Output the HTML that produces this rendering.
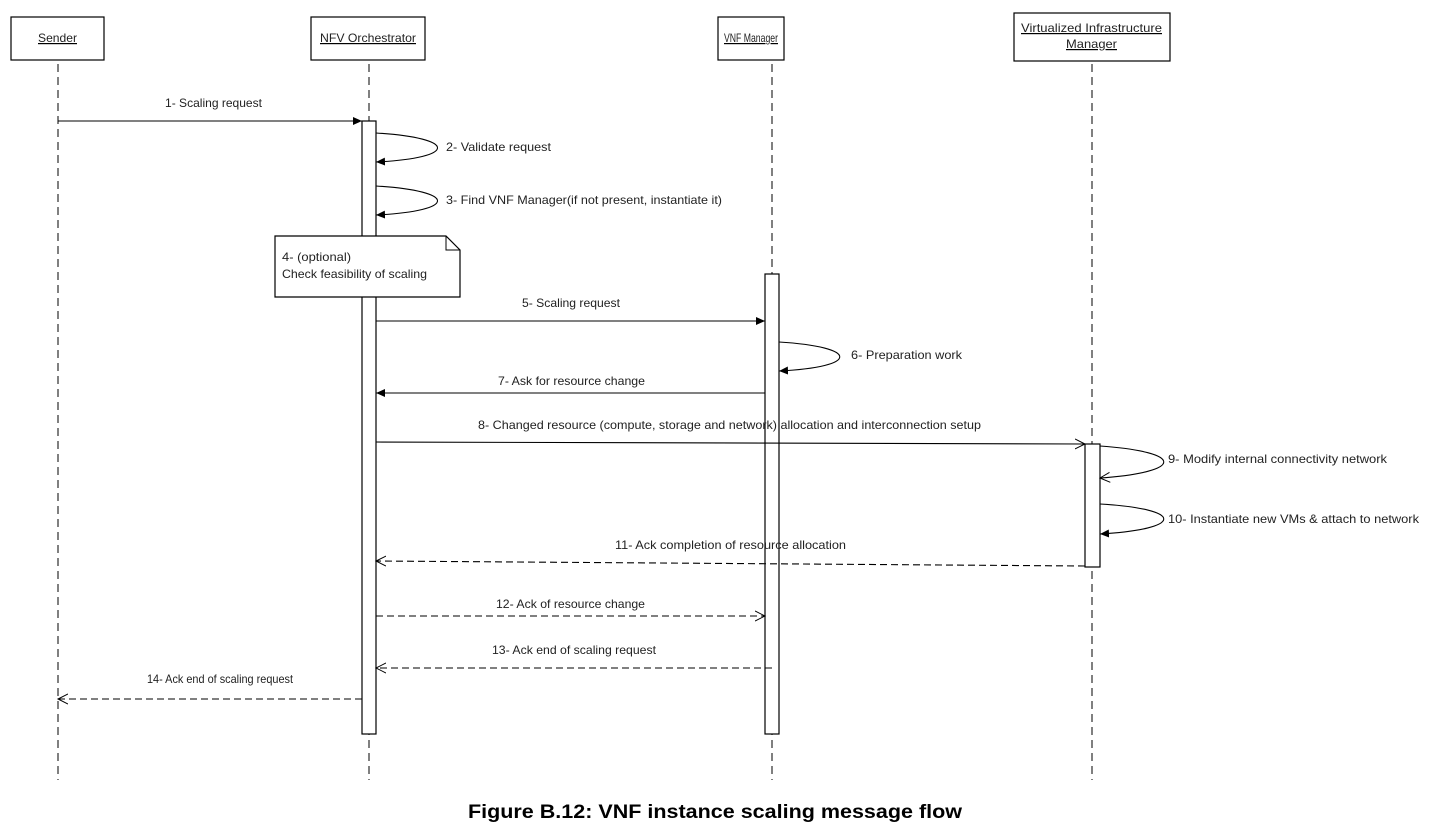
<!DOCTYPE html>
<html><head><meta charset="utf-8"><style>
body{margin:0;background:#fff;width:1434px;height:834px;overflow:hidden}
svg text{font-family:"Liberation Sans",sans-serif;font-size:12px;fill:#222}
</style></head><body>
<svg width="1434" height="834" viewBox="0 0 1434 834">
<defs>
<marker id="f" markerWidth="10" markerHeight="10" refX="9" refY="5" orient="auto" markerUnits="userSpaceOnUse"><path d="M0,1 L9,5 L0,9 z" fill="#000"/></marker>
<marker id="o" markerWidth="12" markerHeight="12" refX="10" refY="6" orient="auto" markerUnits="userSpaceOnUse"><path d="M0,1 L10,6 L0,11" fill="none" stroke="#000"/></marker>
</defs>
<g stroke="#000" fill="#fff" stroke-width="1.2">
<rect x="11" y="17" width="93" height="43"/>
<rect x="311" y="17" width="114" height="43"/>
<rect x="718" y="17" width="66" height="43"/>
<rect x="1014" y="13" width="156" height="48"/>
</g>
<g text-decoration="underline">
<text x="38" y="42" textLength="39" lengthAdjust="spacingAndGlyphs">Sender</text>
<text x="320" y="42" textLength="96" lengthAdjust="spacingAndGlyphs">NFV Orchestrator</text>
<text x="724" y="42" textLength="54" lengthAdjust="spacingAndGlyphs" style="font-size:12px">VNF Manager</text>
<text x="1021" y="32" textLength="141" lengthAdjust="spacingAndGlyphs">Virtualized Infrastructure</text>
<text x="1066" y="48" textLength="51" lengthAdjust="spacingAndGlyphs">Manager</text>
</g>
<g stroke="#000" stroke-width="1" stroke-dasharray="8,5">
<line x1="58" y1="64" x2="58" y2="780"/>
<line x1="369" y1="64" x2="369" y2="780"/>
<line x1="772" y1="64" x2="772" y2="780"/>
<line x1="1092" y1="64" x2="1092" y2="780"/>
</g>
<g stroke="#000" fill="#fff" stroke-width="1.2">
<rect x="362" y="121" width="14" height="613"/>
<rect x="765" y="274" width="14" height="460"/>
<rect x="1085" y="444" width="15" height="123"/>
</g>
<g stroke="#000" fill="none" stroke-width="1.1">
<line x1="58" y1="121" x2="362" y2="121" marker-end="url(#f)"/>
<path d="M376,133 C458,138 458,158 376,162" marker-end="url(#f)"/>
<path d="M376,186 C458,191 458,211 376,215" marker-end="url(#f)"/>
<line x1="376" y1="321" x2="765" y2="321" marker-end="url(#f)"/>
<path d="M779,342 C860,347 860,367 779,371" marker-end="url(#f)"/>
<line x1="765" y1="393" x2="376" y2="393" marker-end="url(#f)"/>
<line x1="376" y1="442" x2="1085" y2="444" marker-end="url(#o)"/>
<path d="M1100,446 C1185,452 1185,472 1100,478" marker-end="url(#o)"/>
<path d="M1100,504 C1185,509 1185,529 1100,534" marker-end="url(#f)"/>
<g stroke-dasharray="7,4">
<line x1="1085" y1="566" x2="376" y2="561" marker-end="url(#o)"/>
<line x1="376" y1="616" x2="765" y2="616" marker-end="url(#o)"/>
<line x1="772" y1="668" x2="376" y2="668" marker-end="url(#o)"/>
<line x1="362" y1="699" x2="58" y2="699" marker-end="url(#o)"/>
</g>
</g>
<path d="M275,236 L446,236 L460,250 L460,297 L275,297 z" fill="#fff" stroke="#000" stroke-width="1.2"/>
<path d="M446,236 L446,250 L460,250" fill="none" stroke="#000"/>
<text x="282" y="261" textLength="69" lengthAdjust="spacingAndGlyphs">4- (optional)</text>
<text x="282" y="278" textLength="145" lengthAdjust="spacingAndGlyphs">Check feasibility of scaling</text>
<text x="165" y="107" textLength="97" lengthAdjust="spacingAndGlyphs">1- Scaling request</text>
<text x="446" y="151" textLength="105" lengthAdjust="spacingAndGlyphs">2- Validate request</text>
<text x="446" y="204" textLength="276" lengthAdjust="spacingAndGlyphs">3- Find VNF Manager(if not present, instantiate it)</text>
<text x="522" y="307" textLength="98" lengthAdjust="spacingAndGlyphs">5- Scaling request</text>
<text x="851" y="359" textLength="111" lengthAdjust="spacingAndGlyphs">6- Preparation work</text>
<text x="498" y="385" textLength="147" lengthAdjust="spacingAndGlyphs">7- Ask for resource change</text>
<text x="478" y="429" textLength="503" lengthAdjust="spacingAndGlyphs">8- Changed resource (compute, storage and network) allocation and interconnection setup</text>
<text x="1168" y="463" textLength="219" lengthAdjust="spacingAndGlyphs">9- Modify internal connectivity network</text>
<text x="1168" y="523" textLength="251" lengthAdjust="spacingAndGlyphs">10- Instantiate new VMs &amp; attach to network</text>
<text x="615" y="549" textLength="231" lengthAdjust="spacingAndGlyphs">11- Ack completion of resource allocation</text>
<text x="496" y="608" textLength="149" lengthAdjust="spacingAndGlyphs">12- Ack of resource change</text>
<text x="492" y="654" textLength="164" lengthAdjust="spacingAndGlyphs">13- Ack end of scaling request</text>
<text x="147" y="683" textLength="146" lengthAdjust="spacingAndGlyphs">14- Ack end of scaling request</text>
<text x="468" y="818" textLength="494" lengthAdjust="spacingAndGlyphs" style="font-weight:bold;font-size:19px;fill:#000">Figure B.12: VNF instance scaling message flow</text>
</svg>
</body></html>
